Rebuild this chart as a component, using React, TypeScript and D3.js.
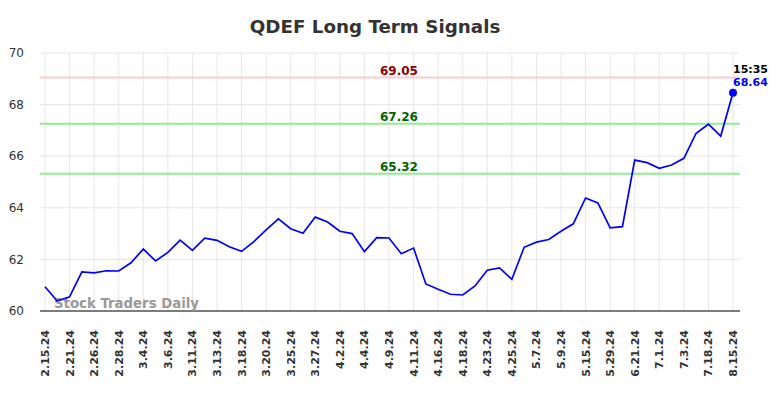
import React from "react";
import * as d3 from "d3";

const labels = ["2.15.24","2.21.24","2.26.24","2.28.24","3.4.24","3.6.24","3.11.24","3.13.24","3.18.24","3.20.24","3.25.24","3.27.24","4.2.24","4.4.24","4.9.24","4.11.24","4.16.24","4.18.24","4.23.24","4.25.24","5.7.24","5.9.24","5.15.24","5.29.24","6.21.24","7.1.24","7.3.24","7.18.24","8.15.24"];

const values = [60.94,60.39,60.55,61.52,61.48,61.56,61.55,61.87,62.40,61.94,62.27,62.75,62.35,62.82,62.74,62.49,62.31,62.69,63.14,63.57,63.19,63.01,63.64,63.45,63.09,63.00,62.30,62.84,62.83,62.22,62.44,61.05,60.84,60.65,60.62,60.97,61.58,61.67,61.23,62.47,62.67,62.77,63.09,63.38,64.38,64.19,63.22,63.27,65.85,65.75,65.53,65.66,65.92,66.89,67.24,66.78,68.46];

const yTicks = [60, 62, 64, 66, 68, 70];
const signalLevels = [69.05, 67.26, 65.32];
const signalLineColors = ["#ffcccc", "#90ee90", "#90ee90"];
const signalTextColors = ["#8b0000", "#006400", "#006400"];
const lastTime = "15:35";
const lastLabel = "68.64";

const W = 784, H = 398;
const left = 40, right = 740, top = 53, bottom = 311;

export default function App() {
  const x = d3.scalePoint<number>().domain(values.map((_, i) => i)).range([45, 733]);
  const y = d3.scaleLinear().domain([60, 70]).range([bottom, top]);
  const line = d3.line<number>().x((_, i) => x(i)!).y(d => y(d));
  const lastI = values.length - 1;
  const font = "DejaVu Sans, sans-serif";
  return (
    <svg width={W} height={H} style={{ position: "absolute", left: 0, top: 0 }} fontFamily={font}>
      <rect width={W} height={H} fill="#fff" />
      <text x={375} y={33} textAnchor="middle" fontSize={18.3} fontWeight="bold" fill="#333">QDEF Long Term Signals</text>
      {labels.map((l, k) => (
        <line key={"vg" + k} x1={x(k * 2)} x2={x(k * 2)} y1={top} y2={bottom} stroke="#e6e6e6" strokeWidth={1} />
      ))}
      {yTicks.map(t => (
        <g key={"yt" + t}>
          <line x1={left} x2={right} y1={y(t)} y2={y(t)} stroke="#e6e6e6" strokeWidth={1} />
          <text x={24} y={y(t)} dy="0.35em" textAnchor="end" fontSize={12} fill="#333">{t}</text>
        </g>
      ))}
      {signalLevels.map((s, i) => (
        <g key={"s" + i}>
          <line x1={left} x2={right} y1={y(s)} y2={y(s)} stroke={signalLineColors[i]} strokeWidth={2} />
          <text x={399} y={y(s) - 3} textAnchor="middle" fontSize={12} fontWeight="bold" fill={signalTextColors[i]}>{s.toFixed(2)}</text>
        </g>
      ))}
      <line x1={left} x2={right} y1={bottom} y2={bottom} stroke="#555" strokeWidth={1.5} />
      <text x={54} y={308} fontSize={13.3} fontWeight="bold" fill="#999">Stock Traders Daily</text>
      <path d={line(values) || ""} fill="none" stroke="#0000ff" strokeWidth={1.7} />
      <circle cx={x(lastI)} cy={y(values[lastI])} r={4} fill="#0000ff" />
      <text x={x(lastI)} y={73} fontSize={11} fontWeight="bold" fill="#000">{lastTime}</text>
      <text x={x(lastI)} y={86} fontSize={11} fontWeight="bold" fill="#0000ff">{lastLabel}</text>
      {labels.map((l, k) => (
        <text key={"xl" + k} transform={`translate(${x(k * 2)! + 4},330) rotate(-90)`} textAnchor="end" fontSize={11} fontWeight="bold" fill="#333">{l}</text>
      ))}
    </svg>
  );
}
